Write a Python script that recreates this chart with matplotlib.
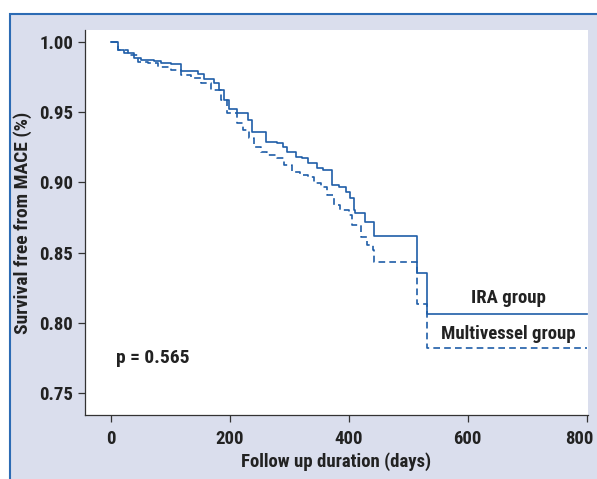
import matplotlib.pyplot as plt
from matplotlib.patches import Rectangle
from matplotlib.transforms import ScaledTranslation

# Kaplan-Meier style curves (day of drop, survival after drop)
ira_days = [0, 12, 23, 39, 51, 73, 85, 101, 118, 146, 157, 173, 182, 190, 199,
            213, 230, 238, 261, 280, 289, 297, 311, 322, 331, 347, 356, 372,
            384, 395, 403, 409, 411, 428, 442, 515, 532, 800]
ira_surv = [1.000, 0.9943, 0.9920, 0.9886, 0.9872, 0.9867, 0.9848, 0.9843,
            0.9796, 0.9772, 0.9736, 0.9708, 0.9658, 0.9587, 0.9523, 0.9496,
            0.9444, 0.9361, 0.9290, 0.9283, 0.9254, 0.9219, 0.9183, 0.9172,
            0.9136, 0.9100, 0.9088, 0.8981, 0.8969, 0.8934, 0.8889, 0.8803,
            0.8780, 0.8716, 0.8618, 0.8353, 0.8063, 0.8063]

multi_days = [0, 12, 29, 46, 62, 79, 101, 118, 135, 152, 169, 185, 196, 213,
              222, 233, 241, 252, 263, 280, 291, 305, 319, 331, 342, 353, 364,
              375, 386, 400, 406, 420, 431, 440, 442, 515, 532, 800]
multi_surv = [1.000, 0.9943, 0.9907, 0.9860, 0.9848, 0.9824, 0.9801, 0.9765,
              0.9741, 0.9706, 0.9658, 0.9587, 0.9492, 0.9421, 0.9373, 0.9314,
              0.9254, 0.9219, 0.9195, 0.9172, 0.9124, 0.9076, 0.9053, 0.9041,
              0.8994, 0.8965, 0.8910, 0.8839, 0.8803, 0.8768, 0.8697, 0.8613,
              0.8554, 0.8519, 0.8435, 0.8134, 0.7823, 0.7823]

x_ticks = [0, 200, 400, 600, 800]
y_ticks = [0.75, 0.80, 0.85, 0.90, 0.95, 1.00]

LINE_COLOR = '#1f5ea8'
BG_COLOR = '#dadeed'
BORDER_COLOR = '#2c6bb4'
TEXT_COLOR = '#222222'

plt.rcParams['font.family'] = ['Roboto Condensed', 'Archivo Narrow', 'DejaVu Sans']
plt.rcParams['font.weight'] = 'bold'

fig = plt.figure(figsize=(5.97, 4.79), dpi=100, facecolor='white')

# lavender panel with blue border on top/left
fig.patches.append(Rectangle((10 / 597, -0.1), 1.2, 0.9708 + 0.1,
                             transform=fig.transFigure, facecolor=BG_COLOR,
                             edgecolor=BORDER_COLOR, linewidth=1.5, zorder=-10))

ax = fig.add_axes([85 / 597, 64 / 479, 503 / 597, 385 / 479])
ax.set_facecolor('white')

ax.step(ira_days, ira_surv, where='post', color=LINE_COLOR, linewidth=1.2)
ax.step(multi_days, multi_surv, where='post', color=LINE_COLOR, linewidth=1.2,
        linestyle=(0, (4, 2.5)))

ax.set_xlim(-43, 802)
ax.set_ylim(0.7343, 1.0085)
ax.set_xticks(x_ticks)
ax.set_yticks(y_ticks)
ax.set_yticklabels([f'{v:.2f}' for v in y_ticks])

for side in ['top', 'right']:
    ax.spines[side].set_visible(False)
for side in ['left', 'bottom']:
    ax.spines[side].set_color('#333333')
    ax.spines[side].set_linewidth(0.9)

ax.tick_params(axis='both', labelsize=13.5, colors='#333333', labelcolor=TEXT_COLOR,
               length=5, width=0.9)
ax.tick_params(axis='x', pad=6)

# last x label sits a little left of its tick so it stays inside the picture
last = ax.get_xticklabels()[-1]
last.set_transform(last.get_transform() + ScaledTranslation(-0.07, 0, fig.dpi_scale_trans))

ax.set_xlabel('Follow up duration (days)', fontsize=13.5, color=TEXT_COLOR,
              fontweight='bold', labelpad=3)
ax.set_ylabel('Survival free from MACE (%)', fontsize=14, color=TEXT_COLOR,
              fontweight='bold', labelpad=5)

ax.text(9, 0.775, 'p = 0.565', fontsize=14, color=TEXT_COLOR, fontweight='bold',
        va='center', ha='left')
ax.text(668, 0.8177, 'IRA group', fontsize=13.5, color=TEXT_COLOR,
        fontweight='bold', va='center', ha='center')
ax.text(668, 0.792, 'Multivessel group', fontsize=13.5, color=TEXT_COLOR,
        fontweight='bold', va='center', ha='center')

fig.savefig('out.png', dpi=100, facecolor=fig.get_facecolor())
